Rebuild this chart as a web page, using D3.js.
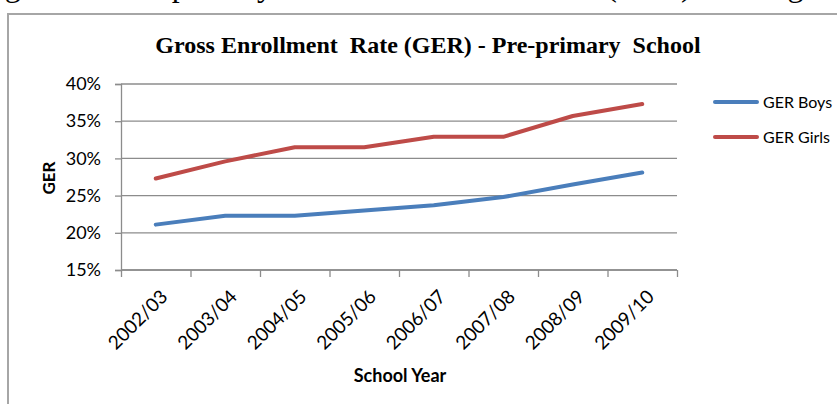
<!DOCTYPE html>
<html>
<head>
<meta charset="utf-8">
<script src="https://cdn.jsdelivr.net/npm/d3@7"></script>
<style>
  html, body { margin: 0; padding: 0; background: #fff; }
  svg { display: block; }
</style>
</head>
<body>
<svg id="chart" width="837" height="404"></svg>
<script>
// School years on the category axis
const years = ["2002/03", "2003/04", "2004/05", "2005/06", "2006/07", "2007/08", "2008/09", "2009/10"];
// Gross enrollment rate, percent
const gerBoys  = [21.1, 22.3, 22.3, 23.0, 23.7, 24.8, 26.5, 28.1];
const gerGirls = [27.3, 29.6, 31.5, 31.5, 32.9, 32.9, 35.7, 37.3];
const yTicks = [15, 20, 25, 30, 35, 40];
const seriesNames = ["GER Boys", "GER Girls"];
const seriesColors = ["#4a7ebb", "#be4b48"];

const svg = d3.select("#chart");
const sans = "Lato, 'Open Sans', sans-serif";
const serif = "'Liberation Serif', 'Times New Roman', serif";

// Caption line above the chart frame
svg.append("text")
  .attr("x", -22).attr("y", -4)
  .style("white-space", "pre")
  .attr("font-family", serif).attr("font-size", 32).attr("fill", "#000")
  .text("Figure 10: Pre-primary  Gross  Enrollment  Rate (GER) across gender");

// Chart frame
svg.append("rect")
  .attr("x", 8).attr("y", 14).attr("width", 900).attr("height", 500)
  .attr("fill", "none").attr("stroke", "#a6a6a6").attr("stroke-width", 2);

const plot = { left: 121, right: 677, top: 84, bottom: 270 };

const x = d3.scaleBand().domain(years).range([plot.left, plot.right]);
const xEdge = d3.scaleLinear().domain([0, years.length]).range([plot.left, plot.right]);
const y = d3.scaleLinear().domain([15, 40]).range([plot.bottom, plot.top]);
const cx = d => x(d) + x.bandwidth() / 2;

// Horizontal gridlines
svg.append("g").selectAll("line").data(yTicks).join("line")
  .attr("x1", plot.left).attr("x2", plot.right)
  .attr("y1", d => y(d)).attr("y2", d => y(d))
  .attr("stroke", "#8c8c8c").attr("stroke-width", 1.3);

// Value axis
const yAxis = svg.append("g")
  .attr("transform", `translate(${plot.left},0)`)
  .call(d3.axisLeft(y).tickValues(yTicks).tickSize(6).tickPadding(14).tickFormat(d => d + "%"));
yAxis.selectAll("path, line").attr("stroke", "#8c8c8c").attr("stroke-width", 1.3);
yAxis.selectAll("text").attr("font-family", sans).attr("font-size", 18).attr("fill", "#000");

// Category axis: tick marks sit on category boundaries
const xAxis = svg.append("g")
  .attr("transform", `translate(0,${plot.bottom})`)
  .call(d3.axisBottom(xEdge).tickValues(d3.range(years.length + 1)).tickSize(7).tickFormat(""));
xAxis.selectAll("path, line").attr("stroke", "#8c8c8c").attr("stroke-width", 1.3);
xAxis.select("path").attr("d", `M${plot.left},0H${plot.right}`);

svg.append("g").selectAll("text").data(years).join("text")
  .attr("transform", d => `translate(${cx(d) + 13},${plot.bottom + 28}) rotate(-45)`)
  .attr("text-anchor", "end")
  .attr("font-family", sans).attr("font-size", 19).attr("fill", "#000")
  .text(d => d);

// Lines
const series = [gerBoys, gerGirls];
const line = d3.line().x((d, i) => cx(years[i])).y(d => y(d));
svg.append("g").selectAll("path").data(series).join("path")
  .attr("d", line)
  .attr("fill", "none")
  .attr("stroke", (d, i) => seriesColors[i])
  .attr("stroke-width", 4)
  .attr("stroke-linecap", "round")
  .attr("stroke-linejoin", "round");

// Title
svg.append("text")
  .attr("x", 428).attr("y", 53)
  .attr("text-anchor", "middle")
  .style("white-space", "pre")
  .attr("font-family", serif).attr("font-weight", "bold").attr("font-size", 24).attr("fill", "#000")
  .text("Gross Enrollment  Rate (GER) - Pre-primary  School");

// Axis titles
svg.append("text")
  .attr("transform", "translate(55,178) rotate(-90)")
  .attr("text-anchor", "middle")
  .attr("font-family", sans).attr("font-weight", "bold").attr("font-size", 17).attr("fill", "#000")
  .text("GER");

svg.append("text")
  .attr("x", 400).attr("y", 382)
  .attr("text-anchor", "middle")
  .attr("font-family", sans).attr("font-weight", "bold").attr("font-size", 18).attr("fill", "#000")
  .text("School Year");

// Legend
const legend = svg.append("g").selectAll("g").data(seriesNames).join("g")
  .attr("transform", (d, i) => `translate(715,${102 + i * 35})`);
legend.append("line")
  .attr("x1", 0).attr("x2", 42).attr("y1", 0).attr("y2", 0)
  .attr("stroke", (d, i) => seriesColors[i]).attr("stroke-width", 4).attr("stroke-linecap", "round");
legend.append("text")
  .attr("x", 48).attr("y", 6)
  .attr("font-family", sans).attr("font-size", 16).attr("fill", "#000")
  .text(d => d);
</script>
</body>
</html>
